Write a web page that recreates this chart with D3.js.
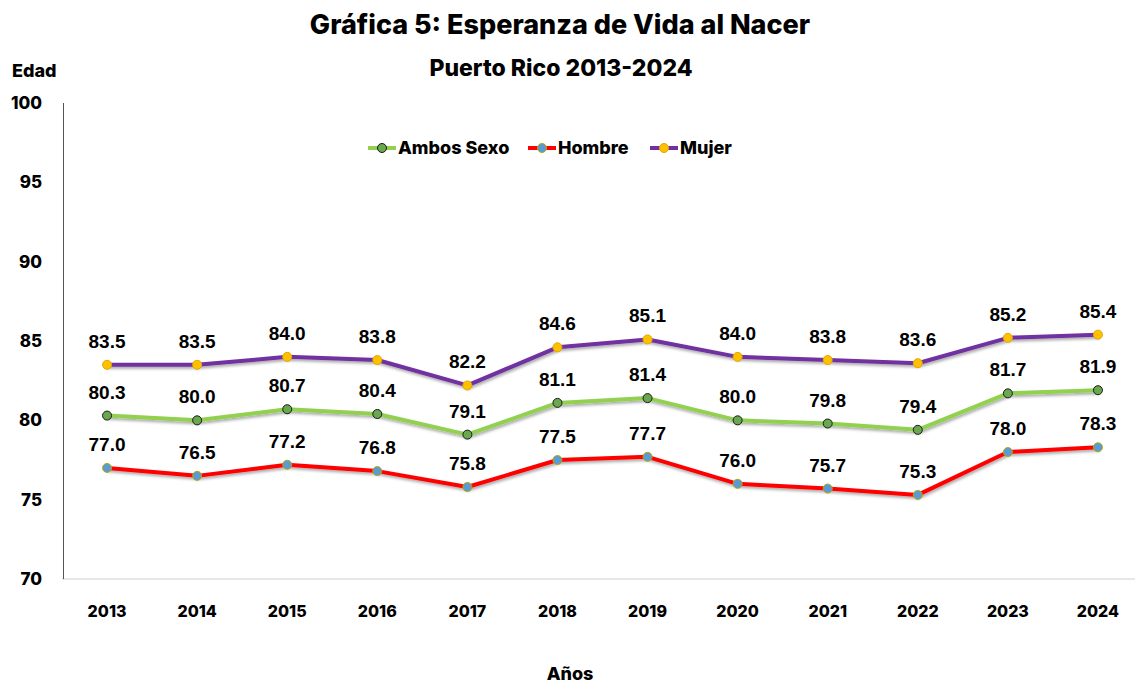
<!DOCTYPE html>
<html>
<head>
<meta charset="utf-8">
<script src="https://cdn.jsdelivr.net/npm/d3@7"></script>
<style>
  body { margin: 0; background: #fff; }
  svg text { font-family: Inter, "DejaVu Sans", sans-serif; font-weight: 700; fill: #000; }
  .val { font-family: "Liberation Sans", Arial, sans-serif; font-weight: 700; }
</style>
</head>
<body>
<div id="chart"></div>
<script>
// data
const years = ['2013', '2014', '2015', '2016', '2017', '2018', '2019', '2020', '2021', '2022', '2023', '2024']
const ambos = [80.3, 80.0, 80.7, 80.4, 79.1, 81.1, 81.4, 80.0, 79.8, 79.4, 81.7, 81.9]
const hombre = [77.0, 76.5, 77.2, 76.8, 75.8, 77.5, 77.7, 76.0, 75.7, 75.3, 78.0, 78.3]
const mujer = [83.5, 83.5, 84.0, 83.8, 82.2, 84.6, 85.1, 84.0, 83.8, 83.6, 85.2, 85.4]
const yTicks = [70, 75, 80, 85, 90, 95, 100]

const series = [
    {name: 'Ambos Sexo', values: ambos, line: '#92d050', fill: '#6aa84f', stroke: '#1a1a1a'},
    {name: 'Hombre', values: hombre, line: '#ff0000', fill: '#5b9bd5', stroke: '#b8a800'},
    {name: 'Mujer', values: mujer, line: '#7030a0', fill: '#ffc000', stroke: '#e0a800'}
]

const W = 1135, H = 686
const svg = d3.select('#chart').append('svg')
    .attr('width', W)
    .attr('height', H)

const defs = svg.append('defs')
const shadow = defs.append('filter').attr('id', 'shadow')
    .attr('x', '-5%').attr('y', '-20%').attr('width', '110%').attr('height', '160%')
shadow.append('feDropShadow')
    .attr('dx', 1).attr('dy', 2).attr('stdDeviation', 1.5)
    .attr('flood-color', '#000').attr('flood-opacity', 0.35)

const x = d3.scaleBand().domain(years).range([62, 1143])
const y = d3.scaleLinear().domain([70, 100]).range([579, 103])
const cx = d => x(d) + x.bandwidth() / 2

// title
svg.append('text')
    .attr('x', 560).attr('y', 34)
    .attr('text-anchor', 'middle')
    .style('font-size', '27px')
    .style('font-weight', 800)
    .text('Gráfica 5: Esperanza de Vida al Nacer')
svg.append('text')
    .attr('x', 561).attr('y', 76)
    .attr('text-anchor', 'middle')
    .style('font-size', '23px')
    .style('font-weight', 800)
    .text('Puerto Rico 2013-2024')

// axes
svg.append('line')
    .attr('x1', 62).attr('x2', 1135)
    .attr('y1', y(70)).attr('y2', y(70))
    .attr('stroke', '#d0d0d0').attr('stroke-width', 1.2)
svg.append('line')
    .attr('x1', 63.5).attr('x2', 63.5)
    .attr('y1', y(100)).attr('y2', y(70))
    .attr('stroke', '#555').attr('stroke-width', 1)

svg.selectAll('.ytick')
    .data(yTicks)
    .enter().append('text')
    .attr('class', 'ytick')
    .attr('x', 42)
    .attr('y', d => y(d) + 6)
    .attr('text-anchor', 'end')
    .style('font-size', '17px')
    .style('font-weight', 800)
    .text(d => d)

svg.selectAll('.xtick')
    .data(years)
    .enter().append('text')
    .attr('class', 'xtick')
    .attr('x', d => cx(d))
    .attr('y', 617)
    .attr('text-anchor', 'middle')
    .style('font-size', '16px')
    .style('font-weight', 800)
    .text(d => d)

svg.append('text').attr('x', 12).attr('y', 77).style('font-size', '18px').style('font-weight', 800).text('Edad')
svg.append('text').attr('x', 570).attr('y', 680).attr('text-anchor', 'middle').style('font-size', '18px').style('font-weight', 800).text('Años')

// lines
const line = d3.line().x((d, i) => cx(years[i])).y(d => y(d))

series.forEach(s => {
    svg.append('path')
        .attr('d', line(s.values))
        .attr('fill', 'none')
        .attr('stroke', s.line)
        .attr('stroke-width', 4)
        .attr('stroke-linejoin', 'round')
        .attr('filter', 'url(#shadow)')

    svg.selectAll(null)
        .data(s.values)
        .enter().append('circle')
        .attr('cx', (d, i) => cx(years[i]))
        .attr('cy', d => y(d))
        .attr('r', 4.5)
        .attr('fill', s.fill)
        .attr('stroke', s.stroke)
        .attr('stroke-width', 1)

    svg.selectAll(null)
        .data(s.values)
        .enter().append('text')
        .attr('class', 'val')
        .attr('x', (d, i) => cx(years[i]))
        .attr('y', d => y(d) - 17)
        .attr('text-anchor', 'middle')
        .style('font-size', '19px')
        .text(d => d.toFixed(1))
})

// legend
const legendX = [368, 528, 650]
series.forEach((s, i) => {
    const g = svg.append('g').attr('transform', `translate(${legendX[i]}, 148)`)
    g.append('line').attr('x1', 0).attr('x2', 28)
        .attr('stroke', s.line).attr('stroke-width', 4)
    g.append('circle').attr('cx', 14).attr('r', 4.5)
        .attr('fill', s.fill).attr('stroke', s.stroke)
    g.append('text').attr('x', 30).attr('y', 6)
        .style('font-size', '18px')
        .style('font-weight', 800)
        .text(s.name)
})
</script>
</body>
</html>
